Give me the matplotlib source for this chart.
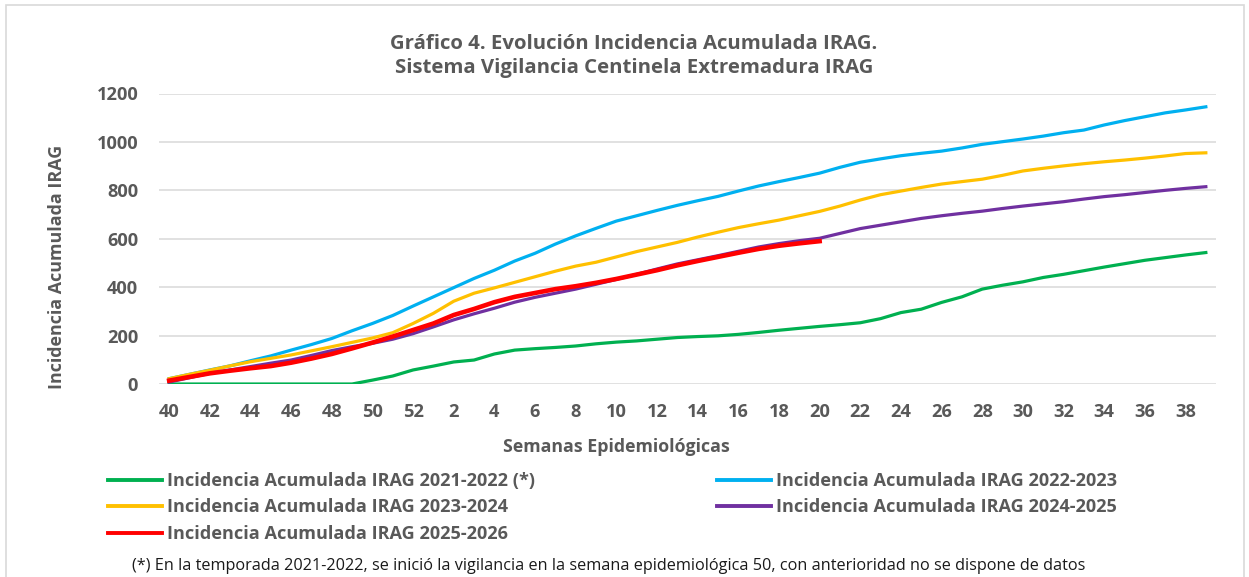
import matplotlib
matplotlib.use("Agg")
import matplotlib.pyplot as plt
from matplotlib.patches import Rectangle

# Semanas epidemiológicas de la temporada (40 -> 52, 1 -> 39)
semanas = list(range(40, 53)) + list(range(1, 40))

inc_2021_2022 = [0, 0, 0, 0, 0, 0, 0, 0, 0, 0, 16, 33, 58, 74, 91, 99, 124, 140, 146, 151,
                 157, 166, 173, 178, 185, 192, 196, 199, 205, 213, 222, 230, 238, 245, 253, 270,
                 295, 309, 337, 360, 392, 408, 422, 440, 453, 468, 483, 497, 511, 522, 533, 543]
inc_2022_2023 = [22, 40, 58, 75, 96, 116, 140, 163, 188, 220, 250, 283, 322, 360, 398, 436, 470,
                 508, 540, 578, 612, 643, 673, 695, 717, 738, 757, 775, 797, 818, 836, 853, 871,
                 895, 916, 930, 943, 953, 962, 975, 990, 1001, 1012, 1024, 1038, 1049, 1070, 1088,
                 1104, 1120, 1132, 1145]
inc_2023_2024 = [22, 40, 57, 75, 92, 106, 120, 137, 154, 172, 190, 212, 250, 292, 342, 375, 397,
                 420, 443, 466, 487, 503, 525, 547, 566, 585, 607, 627, 646, 662, 677, 695, 713,
                 735, 760, 782, 797, 812, 826, 836, 846, 862, 880, 891, 901, 910, 918, 925, 933,
                 942, 952, 955]
inc_2024_2025 = [8, 26, 44, 58, 72, 86, 99, 118, 138, 154, 168, 185, 208, 236, 265, 290, 313,
                 338, 358, 375, 392, 412, 432, 453, 475, 496, 513, 530, 548, 566, 580, 592, 602,
                 622, 642, 656, 670, 684, 695, 705, 714, 725, 735, 744, 753, 764, 774, 782, 791,
                 800, 808, 815]
inc_2025_2026 = [14, 29, 44, 55, 65, 74, 88, 105, 124, 147, 171, 196, 223, 250, 285, 310, 338,
                 360, 376, 392, 404, 418, 434, 452, 470, 490, 508, 525, 542, 558, 571, 581, 590]

GRIS = "#595959"
plt.rcParams["font.family"] = ["Open Sans", "DejaVu Sans"]

W, H = 1249, 577
fig = plt.figure(figsize=(W / 100, H / 100), dpi=100)
ax = fig.add_axes([159 / W, 1 - 384 / H, (1216 - 159) / W, (384 - 93.5) / H])
renderer = fig.canvas.get_renderer()


def fit(t, target, vertical=False):
    # ajusta el tamaño de letra para que el texto ocupe el ancho del original
    bb = t.get_window_extent(renderer)
    size = bb.height if vertical else bb.width
    t.set_fontsize(t.get_fontsize() * target / size)
    return t.get_fontsize()


x = list(range(len(semanas)))
l1, = ax.plot(x, inc_2021_2022, color="#00B050", lw=2.3,
              label="Incidencia Acumulada IRAG 2021-2022 (*)")
l2, = ax.plot(x, inc_2022_2023, color="#00B0F0", lw=2.3,
              label="Incidencia Acumulada IRAG 2022-2023")
l3, = ax.plot(x, inc_2023_2024, color="#FFC000", lw=2.3,
              label="Incidencia Acumulada IRAG 2023-2024")
l4, = ax.plot(x, inc_2024_2025, color="#7030A0", lw=2.3,
              label="Incidencia Acumulada IRAG 2024-2025")
l5, = ax.plot(range(len(inc_2025_2026)), inc_2025_2026, color="#FF0000", lw=3.3,
              label="Incidencia Acumulada IRAG 2025-2026")

ax.set_xlim(-0.5, len(semanas) - 0.5)
ax.set_ylim(0, 1200)
ax.set_yticks(range(0, 1201, 200))
ax.set_xticks(x[::2])
ax.set_xticklabels([str(s) for s in semanas[::2]])
ax.grid(axis="y", color="#D9D9D9", lw=1.1)
ax.set_axisbelow(True)
for s in ax.spines.values():
    s.set_visible(False)

probe = fig.text(0, 0, "1200", fontsize=13, fontweight="bold")
tick_fs = fit(probe, 41.7)
probe.remove()
ax.tick_params(axis="both", length=0, labelsize=tick_fs, labelcolor=GRIS)
ax.tick_params(axis="x", pad=14)
ax.tick_params(axis="y", pad=15)
for lab in ax.get_xticklabels() + ax.get_yticklabels():
    lab.set_fontweight("bold")

xl = ax.set_xlabel("Semanas Epidemiológicas", fontsize=13, fontweight="bold", color=GRIS, va="center")
fit(xl, 226)
ax.xaxis.set_label_coords((616 - 159) / 1057, (384 - 447) / 290.5)
yl = ax.set_ylabel("Incidencia Acumulada IRAG", fontsize=13, fontweight="bold", color=GRIS, va="center")
fit(yl, 243, vertical=True)
ax.yaxis.set_label_coords((57 - 159) / 1057, (384 - 267) / 290.5)

title = fig.text(634 / W, 1 - 56 / H,
                 "Gráfico 4. Evolución Incidencia Acumulada IRAG.\n"
                 "Sistema Vigilancia Centinela Extremadura IRAG",
                 ha="center", va="center", fontsize=14, fontweight="bold", color=GRIS,
                 linespacing=1.3)
fit(title, 492)

# legend: tamaño de letra y espaciado medidos sobre el original
probe = fig.text(0, 0, l2.get_label(), fontsize=13, fontweight="bold")
leg_fs = fit(probe, 341)
w_left = fig.text(0, 0, l1.get_label(), fontsize=leg_fs, fontweight="bold").get_window_extent(renderer)
h_txt = probe.get_window_extent(renderer).height
fs = leg_fs * 100 / 72
for t in fig.texts[-2:]:
    t.remove()
order = [l1, l3, l5, l2, l4]
leg = fig.legend(order, [h.get_label() for h in order],
                 ncol=2, loc="upper left", bbox_to_anchor=(108 / W, 1 - (481 - h_txt / 2) / H),
                 frameon=False, borderpad=0, borderaxespad=0,
                 handlelength=54 / fs, handletextpad=5 / fs,
                 columnspacing=(717 - 167 - w_left.width) / fs,
                 labelspacing=(26.5 - h_txt) / fs, prop={"size": leg_fs, "weight": "bold"})
for t in leg.get_texts():
    t.set_color(GRIS)
for h in leg.legend_handles:
    h.set_linewidth(2.8)

note = fig.text(132 / W, 1 - 566 / H,
                "(*) En la temporada 2021-2022, se inició la vigilancia en la semana epidemiológica 50, "
                "con anterioridad no se dispone de datos",
                ha="left", va="center", fontsize=11, color="#1a1a1a")
fit(note, 956)

fig.patches.append(Rectangle((6 / W, -0.01), (1244 - 6) / W, 1 - 5 / H + 0.01,
                             transform=fig.transFigure, fill=False, edgecolor="#D9D9D9", lw=1.2))

fig.savefig("out.png", dpi=100)
